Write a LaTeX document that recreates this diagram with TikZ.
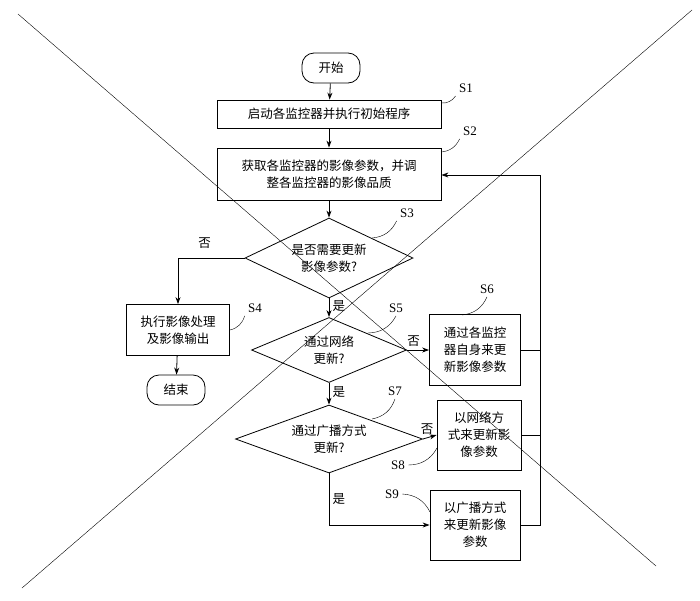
\documentclass[tikz,border=0pt]{standalone}
\usepackage{fontspec}
\setmainfont{Liberation Serif}
\newfontfamily\cjk{Noto Sans CJK SC}
\usetikzlibrary{shapes.geometric,arrows.meta}
\begin{document}
\begin{tikzpicture}[x=1pt,y=-1pt,font=\cjk\fontsize{12.5}{17}\selectfont,
  box/.style={draw,thick,align=center,inner sep=2pt},
  term/.style={draw,thick,rounded corners=12pt,minimum width=58pt,minimum height=30pt},
  dia/.style={draw,thick,diamond,aspect=2.6,align=center,inner sep=0pt},
  arr/.style={thick,-{Stealth[length=7pt,width=5pt]}},
  ln/.style={thick},
  lab/.style={font=\fontsize{13}{15}\selectfont},
  tick/.style={thin}]
\useasboundingbox (0,0) rectangle (700,600);
\draw[thin] (18,14) -- (656,566);
\draw[thin] (692,10) -- (22,588);
\node[term] (start) at (331,68) {开始};
\node[box,minimum width=224pt,minimum height=28pt] (s1) at (329,114) {启动各监控器并执行初始程序};
\node[box,minimum width=224pt,minimum height=52pt] (s2) at (329,174) {获取各监控器的影像参数，并调\\整各监控器的影像品质};
\node[dia,minimum width=168pt,minimum height=80pt] (s3) at (329,258) {是否需要更新\\影像参数?};
\node[box,minimum width=103pt,minimum height=51pt] (s4) at (178,330) {执行影像处理\\及影像输出};
\node[term] (end) at (176,390) {结束};
\node[dia,minimum width=155pt,minimum height=65pt] (s5) at (329,350) {通过网络\\更新?};
\node[box,minimum width=91pt,minimum height=71pt] (s6) at (475,350) {通过各监控\\器自身来更\\新影像参数};
\node[dia,minimum width=187pt,minimum height=68pt] (s7) at (329,439) {通过广播方式\\更新?};
\node[box,minimum width=84pt,minimum height=70pt] (b7) at (479,435) {以网络方\\式来更新影\\像参数};
\node[box,minimum width=90pt,minimum height=70pt] (s9) at (475,525) {以广播方式\\来更新影像\\参数};
\coordinate (r) at (540,175);
\draw[arr] (start) -- (s1);
\draw[arr] (s1) -- (s2);
\draw[arr] (s2) -- (s3);
\draw[arr] (s3.west) -| node[pos=0.3,above,yshift=6pt]{否} (s4.north);
\draw[arr] (s4) -- (end);
\draw[arr] (s3.south) -- node[right,pos=0.4]{是} (s5.north);
\draw[arr] (s5.east) -- node[above,pos=0.3]{否} (s6.west);
\draw[arr] (s5.south) -- node[right,pos=0.4]{是} (s7.north);
\draw[arr] (s7.east) -- node[above,pos=0.3]{否} (b7.west);
\draw[arr] (s7.south) |- node[right,pos=0.25]{是} (s9.west);
\draw[ln] (s6.east) -- (s6.east -| r);
\draw[ln] (b7.east) -- (b7.east -| r);
\draw[arr] (s9.east) -| (r) -- (s2.east |- r);
\node[lab] (l1) at (466,88) {S1};
\draw[tick] (l1.south west) to[bend left=30] (441,103);
\node[lab] (l2) at (470,131) {S2};
\draw[tick] (l2.south west) to[bend left=30] (441,152);
\node[lab] (l3) at (407,213) {S3};
\draw[tick] (l3.south west) to[bend left=30] (372,238);
\node[lab] (l4) at (255,308) {S4};
\draw[tick] (l4.south west) to[bend left=30] (230,330);
\node[lab] (l5) at (396,308) {S5};
\draw[tick] (l5.south) to[bend left=30] (368,333);
\node[lab] (l6) at (487,289) {S6};
\draw[tick] (l6.south) to[bend left=30] (462,315);
\node[lab] (l7) at (395,391) {S7};
\draw[tick] (l7.south) to[bend left=30] (372,419);
\node[lab] (l8) at (398,465) {S8};
\draw[tick] (l8.east) to[bend right=30] (437,448);
\node[lab] (l9) at (392,494) {S9};
\draw[tick] (l9.east) to[bend left=30] (430,512);
\end{tikzpicture}
\end{document}
